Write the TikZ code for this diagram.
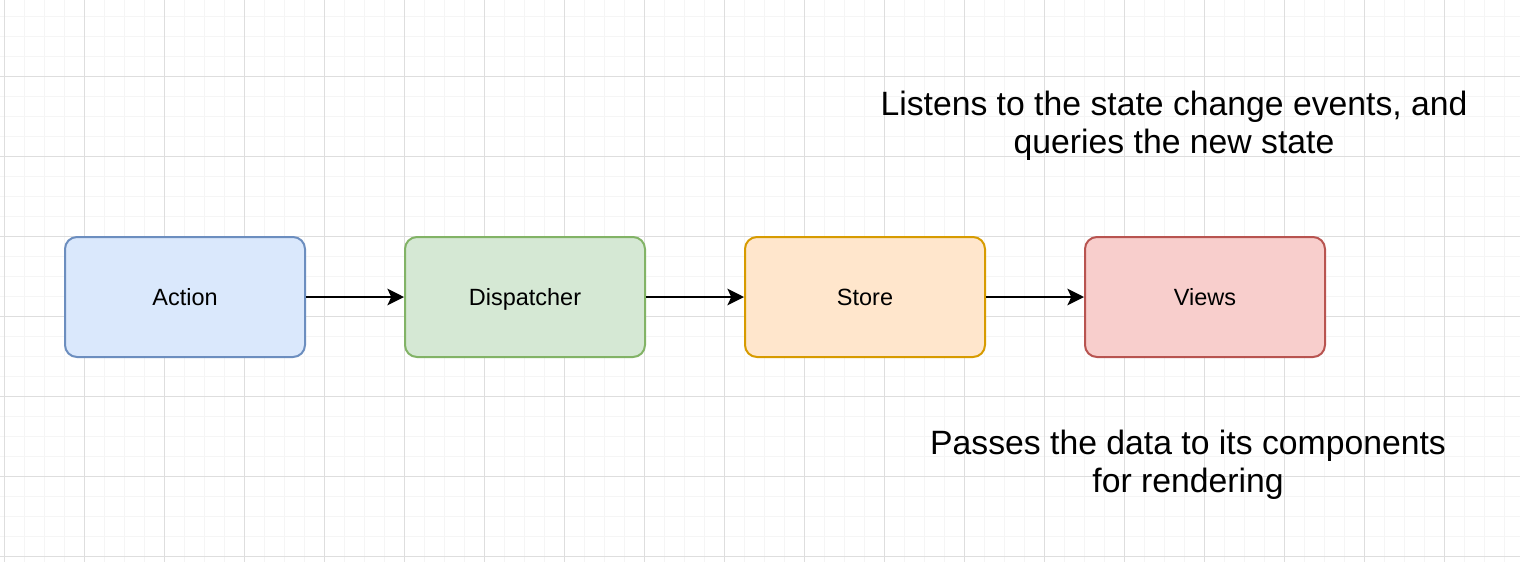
\documentclass[tikz,border=0pt]{standalone}
\usepackage{fontspec}
\setmainfont{Liberation Sans}
\usetikzlibrary{arrows.meta}
\definecolor{gridminor}{HTML}{F5F5F5}
\definecolor{gridmajor}{HTML}{DEDEDE}
\definecolor{bfill}{HTML}{DAE8FC}\definecolor{bdraw}{HTML}{6C8EBF}
\definecolor{gfill}{HTML}{D5E8D4}\definecolor{gdraw}{HTML}{82B366}
\definecolor{ofill}{HTML}{FFE6CC}\definecolor{odraw}{HTML}{D79B00}
\definecolor{rfill}{HTML}{F8CECC}\definecolor{rdraw}{HTML}{B85450}
\tikzset{
  box/.style={rounded corners=9pt, line width=1.5pt, minimum width=180pt, minimum height=90pt, inner sep=0pt, text height=12.9pt, text depth=0pt, font=\fontsize{17.6}{21}\selectfont},
  conn/.style={line width=1.5pt, -{Stealth[length=12.5pt,width=12.5pt,inset=3pt]}},
  note/.style={align=center, inner sep=0pt, font=\fontsize{25.3}{28.7}\selectfont}
}
\begin{document}
\begin{tikzpicture}[x=0.75pt,y=-0.75pt]
\useasboundingbox (0,0) rectangle (1520,562);
\fill[white] (0,0) rectangle (1520,562);
\foreach \i in {0,...,75} {\draw[gridminor,line width=0.75pt] ({4+20*\i},0) -- ({4+20*\i},562);}
\foreach \j in {0,...,27} {\draw[gridminor,line width=0.75pt] (0,{16+20*\j}) -- (1520,{16+20*\j});}
\foreach \i in {0,...,18} {\draw[gridmajor,line width=0.75pt] ({4+80*\i},0) -- ({4+80*\i},562);}
\foreach \j in {-1,...,6} {\draw[gridmajor,line width=0.75pt] (0,{76+80*\j}) -- (1520,{76+80*\j});}
\node[box, fill=bfill, draw=bdraw] (action) at (185,297) {Action};
\node[box, fill=gfill, draw=gdraw] (disp) at (525,297) {Dispatcher};
\node[box, fill=ofill, draw=odraw] (store) at (865,297) {Store};
\node[box, fill=rfill, draw=rdraw] (views) at (1205,297) {Views};
\draw[conn] (action) -- (disp);
\draw[conn] (disp) -- (store);
\draw[conn] (store) -- (views);
\node[note] (listen) at (1174,126) {Listens to the state change events, and\\queries the new state};
\node[note] (pass) at (1188,465) {Passes the data to its components\\for rendering};
\end{tikzpicture}
\end{document}
